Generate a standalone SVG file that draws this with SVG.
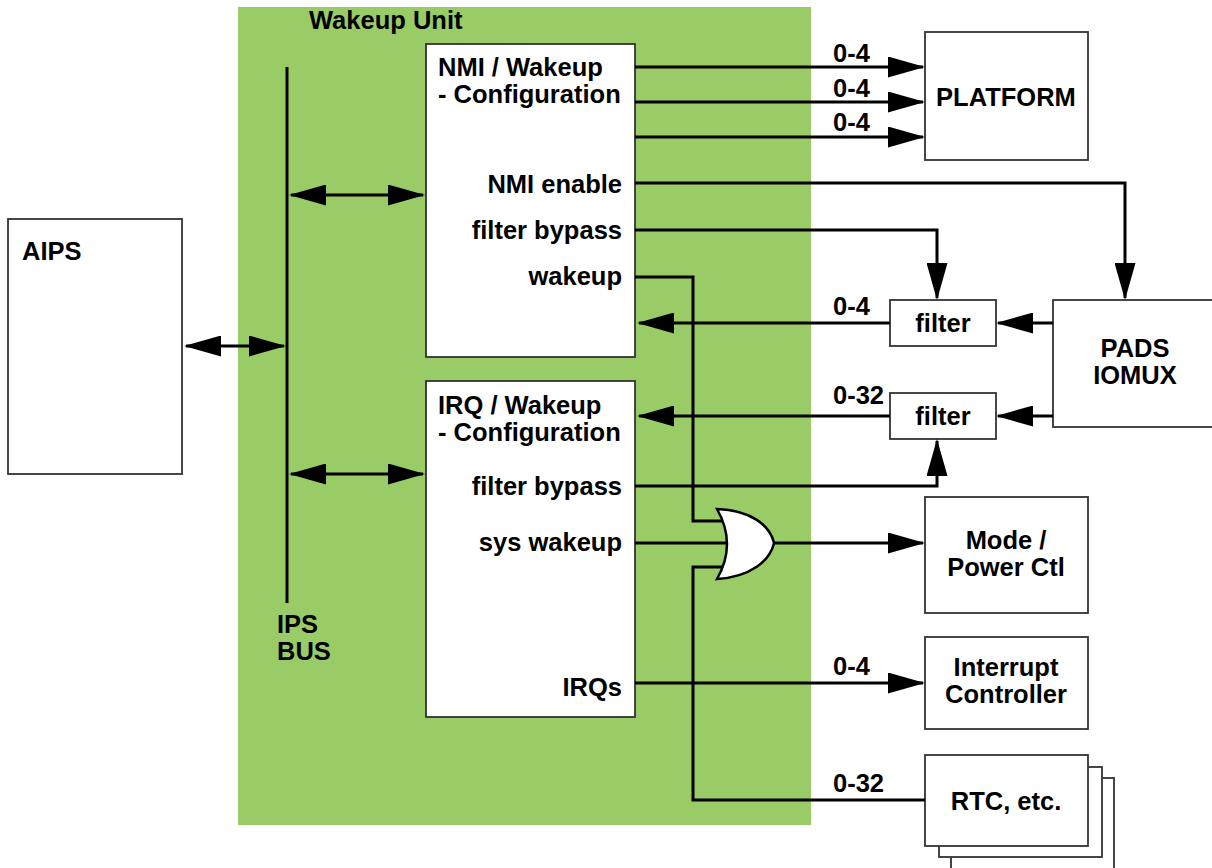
<svg xmlns="http://www.w3.org/2000/svg" width="1212" height="868" viewBox="0 0 1212 868">
<style>
.box{fill:#fff;stroke:#333;stroke-width:1.8}
.ln{fill:none;stroke:#000;stroke-width:3}
.t{font-family:"Liberation Sans",Arial,Helvetica,sans-serif;font-weight:bold;font-size:25.5px;fill:#000}
.m{text-anchor:middle}
.e{text-anchor:end}
</style>
<defs>
<marker id="ah" viewBox="0 0 37 21" markerWidth="37" markerHeight="21" refX="35" refY="10.5" markerUnits="userSpaceOnUse" orient="auto-start-reverse">
<path d="M0,0 L37,10.5 L0,21 Z" fill="#000"/>
</marker>
</defs>
<rect id="wakeup-unit" x="238" y="7" width="573" height="818" fill="#99CC66"/>
<text class="t" x="309" y="29">Wakeup Unit</text>
<g id="aips">
<rect class="box" x="8" y="219" width="174" height="255"/>
<text class="t" x="22" y="260">AIPS</text>
</g>
<g id="ips-bus">
<text class="t" x="277" y="633">IPS</text>
<text class="t" x="277" y="660">BUS</text>
</g>
<g id="nmi">
<rect class="box" x="426" y="44" width="209" height="313"/>
<text class="t" x="438" y="76">NMI / Wakeup</text>
<text class="t" x="438" y="103">- Configuration</text>
<text class="t e" x="622" y="193">NMI enable</text>
<text class="t e" x="622" y="239">filter bypass</text>
<text class="t e" x="622" y="285">wakeup</text>
</g>
<g id="irq">
<rect class="box" x="426" y="381" width="209" height="336"/>
<text class="t" x="438" y="414">IRQ / Wakeup</text>
<text class="t" x="438" y="441">- Configuration</text>
<text class="t e" x="622" y="495">filter bypass</text>
<text class="t e" x="622" y="551">sys wakeup</text>
<text class="t e" x="622" y="696">IRQs</text>
</g>
<g id="platform">
<rect class="box" x="925" y="32" width="163" height="128"/>
<text class="t m" x="1006" y="106">PLATFORM</text>
</g>
<g id="filter1">
<rect class="box" x="890" y="300" width="106" height="46"/>
<text class="t m" x="943" y="332">filter</text>
</g>
<g id="filter2">
<rect class="box" x="890" y="393" width="106" height="46"/>
<text class="t m" x="943" y="425">filter</text>
</g>
<g id="pads">
<rect class="box" x="1053" y="300" width="170" height="127"/>
<text class="t m" x="1135" y="357">PADS</text>
<text class="t m" x="1135" y="384">IOMUX</text>
</g>
<g id="mode">
<rect class="box" x="925" y="497" width="163" height="116"/>
<text class="t m" x="1006" y="549">Mode /</text>
<text class="t m" x="1006" y="576">Power Ctl</text>
</g>
<g id="intc">
<rect class="box" x="925" y="637" width="163" height="92"/>
<text class="t m" x="1006" y="676">Interrupt</text>
<text class="t m" x="1006" y="703">Controller</text>
</g>
<g id="rtc">
<rect class="box" x="951" y="778" width="163" height="100"/>
<rect class="box" x="939" y="767" width="163" height="90"/>
<rect class="box" x="925" y="755" width="163" height="91"/>
<text class="t m" x="1006" y="810">RTC, etc.</text>
</g>
<g id="connectors">
<path class="ln" d="M287,67 V603"/>
<path class="ln" d="M186,346 H284" marker-start="url(#ah)" marker-end="url(#ah)"/>
<path class="ln" d="M291,195 H423" marker-start="url(#ah)" marker-end="url(#ah)"/>
<path class="ln" d="M291,474 H423" marker-start="url(#ah)" marker-end="url(#ah)"/>
<path class="ln" d="M635,67 H923" marker-end="url(#ah)"/>
<path class="ln" d="M635,102 H923" marker-end="url(#ah)"/>
<path class="ln" d="M635,137 H923" marker-end="url(#ah)"/>
<path class="ln" d="M635,183 H1125 V298" marker-end="url(#ah)"/>
<path class="ln" d="M635,230 H937 V298" marker-end="url(#ah)"/>
<path class="ln" d="M890,323 H639" marker-end="url(#ah)"/>
<path class="ln" d="M1053,323 H998" marker-end="url(#ah)"/>
<path class="ln" d="M890,416 H639" marker-end="url(#ah)"/>
<path class="ln" d="M1053,416 H998" marker-end="url(#ah)"/>
<path class="ln" d="M635,486 H937 V441" marker-end="url(#ah)"/>
<path class="ln" d="M635,277 H693 V521 H726"/>
<path class="ln" d="M635,543 H728"/>
<path class="ln" d="M925,800 H693 V567 H726"/>
<path class="ln" d="M774,543 H923" marker-end="url(#ah)"/>
<path class="ln" d="M635,683 H923" marker-end="url(#ah)"/>
<path id="or-gate" d="M717,509 C750,510 770,525 774,543 C770,561 750,577 717,579 Q737,544 717,509 Z" fill="#fff" stroke="#000" stroke-width="2.5"/>
<text class="t" x="833" y="62">0-4</text>
<text class="t" x="833" y="97">0-4</text>
<text class="t" x="833" y="131">0-4</text>
<text class="t" x="833" y="315">0-4</text>
<text class="t" x="833" y="404">0-32</text>
<text class="t" x="833" y="675">0-4</text>
<text class="t" x="833" y="792">0-32</text>
</g>
</svg>
